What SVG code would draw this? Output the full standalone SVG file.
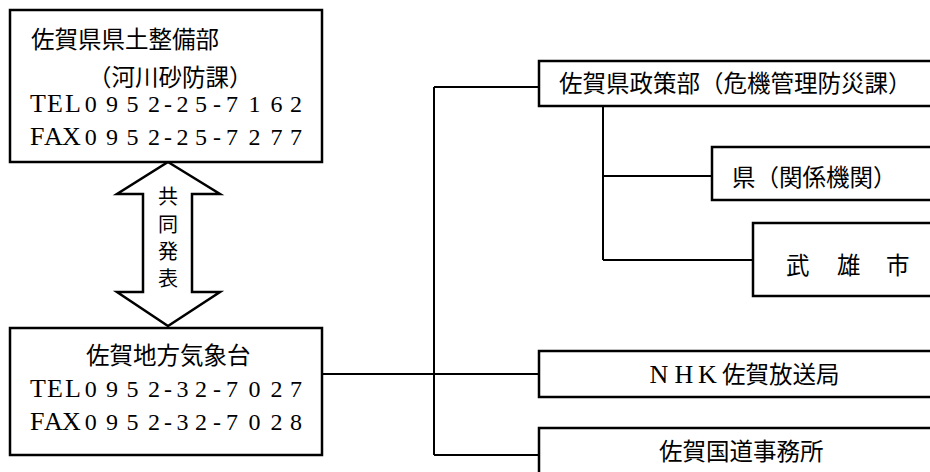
<svg xmlns="http://www.w3.org/2000/svg" width="930" height="472" viewBox="0 0 930 472">
<style>
.box{fill:#fff;stroke:#000;stroke-width:2.5}
.ln{fill:none;stroke:#000;stroke-width:2}
.jp{font-family:"Liberation Serif","Noto Sans CJK JP",serif;font-size:23.5px;fill:#000}
.cjk{font-family:"Noto Sans CJK JP",sans-serif;fill:#000}
.lat{font-family:"Liberation Serif",serif;font-size:26px}
.dig{font-family:"Liberation Serif",serif;font-size:24px}
</style>
<rect width="930" height="472" fill="#fff"/>
<g id="connectors">
<path class="ln" d="M434,87 V455 M434,87 H539 M322,374 H539 M434,455 H539 M603,106 V260 M603,176 H712 M603,260 H753"/>
<polygon class="box" points="168,162 220,194 192,194 192,292 220,292 168,326 117,292 143,292 143,194 117,194"/>
<text class="cjk" font-size="20" text-anchor="middle" x="168 168 168 168" y="203.5 231.5 258.5 285.5">共同発表</text>
</g>
<g id="kendo">
<rect class="box" x="10" y="10" width="312" height="152"/>
<text class="jp" x="31" y="47.5">佐賀県県土整備部</text>
<text class="jp" x="88" y="85.5">（河川砂防課）</text>
<text class="jp"><tspan class="lat" x="30 47 65" y="112">TEL</tspan><tspan class="dig" x="84.7 106 126.5 148 164 176.5 195 213 226 248.5 270.5 290" y="112">0952-25-7162</tspan></text>
<text class="jp"><tspan class="lat" x="30 44 62" y="145">FAX</tspan><tspan class="dig" x="84.7 106 126.5 148 164 176.5 195 213 226 248.5 270.5 290" y="145">0952-25-7277</tspan></text>
</g>
<g id="kishodai">
<rect class="box" x="10" y="328" width="312" height="127"/>
<text class="jp" x="86" y="364">佐賀地方気象台</text>
<text class="jp"><tspan class="lat" x="30 47 65" y="397">TEL</tspan><tspan class="dig" x="84.7 106 126.5 148 164 176.5 195 213 226 248.5 270.5 290" y="397">0952-32-7027</tspan></text>
<text class="jp"><tspan class="lat" x="30 44 62" y="430">FAX</tspan><tspan class="dig" x="84.7 106 126.5 148 164 176.5 195 213 226 248.5 270.5 290" y="430">0952-32-7028</tspan></text>
</g>
<g id="seisakubu">
<rect class="box" x="539" y="61" width="400" height="45"/>
<text class="jp" x="559" y="92">佐賀県政策部（危機管理防災課）</text>
</g>
<g id="ken">
<rect class="box" x="712" y="147" width="230" height="53"/>
<text class="jp" x="732" y="186">県（関係機関）</text>
</g>
<g id="takeo">
<rect class="box" x="753" y="223" width="190" height="73"/>
<text class="jp" font-size="22" x="786 811 837 862 886" y="274">武　雄　市</text>
</g>
<g id="nhk">
<rect class="box" x="539" y="351" width="400" height="46"/>
<text class="jp" y="383"><tspan class="lat" x="649.5 674.5 698">NHK</tspan><tspan x="722">佐賀放送局</tspan></text>
</g>
<g id="kokudo">
<rect class="box" x="539" y="428" width="400" height="60"/>
<text class="jp" x="659" y="460">佐賀国道事務所</text>
</g>
</svg>
